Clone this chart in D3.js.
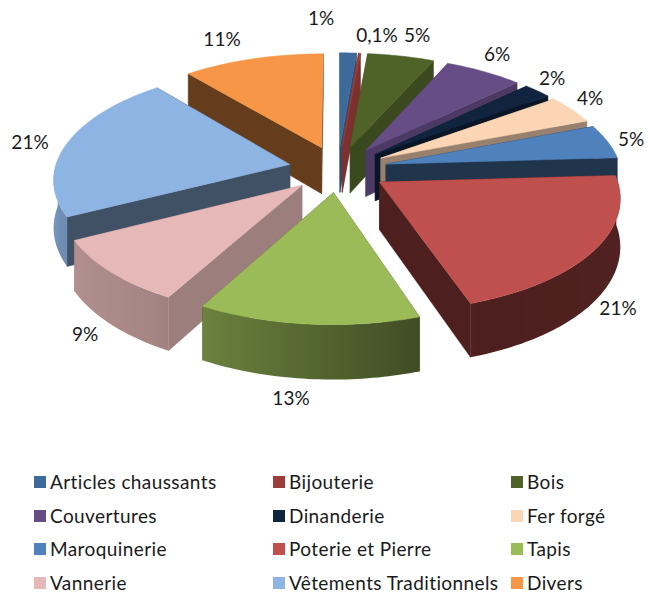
<!DOCTYPE html>
<html>
<head>
<meta charset="utf-8">
<script src="https://cdn.jsdelivr.net/npm/d3@7"></script>
<style>
  body { margin: 0; background: #fff; }
  text { font-family: Lato, "Open Sans", sans-serif; fill: #1a1a1a; }
</style>
</head>
<body>
<div id="content"></div>
<script>
const categories = ["Articles chaussants", "Bijouterie", "Bois", "Couvertures", "Dinanderie", "Fer forgé",
  "Maroquinerie", "Poterie et Pierre", "Tapis", "Vannerie", "Vêtements Traditionnels", "Divers"]
const values = [1.3, 0.15, 5.2, 6.1, 2.2, 4.1, 4.9, 20.7, 13.1, 9.4, 21.4, 11]
const valueLabels = ["1%", "0,1%", "5%", "6%", "2%", "4%", "5%", "21%", "13%", "9%", "21%", "11%"]
const colors = ["#3d6a99", "#9c3d3b", "#4f6228", "#664d85", "#10243f", "#fcd5b5",
  "#4f81bd", "#c0504d", "#9bbb59", "#e6b9b8", "#8eb4e3", "#f79646"]

// shade of the flat cut walls, slice by slice
const cutShade = [0.73, 0.8, 0.75, 0.75, 0.6, 0.6, 0.4, 0.4, 0.55, 0.68, 0.45, 0.41]
// where the value labels sit
const labelSpots = [[321, 18], [377, 35], [417, 35], [497, 54], [552, 78], [590, 98],
  [631, 139], [618, 308], [291, 398], [85, 334], [30, 142], [222, 39]]

const width = 648
const height = 593

const svg = d3.select("#content").append("svg")
    .attr("width", width)
    .attr("height", height)
const defs = svg.append("defs")

// flat pie plane -> screen, with a bit of perspective
const cx = 338
const cy = 169
const radiusX = 235
const radiusY = 110
const depth = 47
const perspective = 0.12
const explode = 0.21

const project = (px, py, down) => {
  const s = 1 / (1 - perspective * py)
  return [cx + radiusX * px * s, cy + radiusY * py * s + (down ? depth * s : 0)]
}

const pie = d3.pie().sort(null).value(d => d)
const slices = pie(values).map((d, i) => {
  const mid = (d.startAngle + d.endAngle) / 2
  return {i, start: d.startAngle, end: d.endAngle, mid,
    ox: explode * Math.sin(mid), oy: -explode * Math.cos(mid)}
})

// back to front
const ordered = d3.sort(slices, d => -Math.cos(d.mid))

// outer wall shade depends on which way the wall faces
const toDeg = a => a * 180 / Math.PI
const wallShade = d3.scaleLinear()
    .domain([0, 160, 213, 270, 360])
    .range([0.45, 0.4, 0.72, 0.83, 0.5])

const shadeOf = (base, f) => d3.rgb(base.r * f, base.g * f, base.b * f)

const line = d3.line()
const pie3d = svg.append("g").attr("class", "pie")

ordered.forEach(s => {
  const base = d3.color(colors[s.i])
  const g = pie3d.append("g")
  const rim = a => [s.ox + Math.sin(a), s.oy - Math.cos(a)]
  const steps = Math.max(2, Math.ceil((s.end - s.start) / 0.02))
  const angles = d3.range(steps + 1).map(k => s.start + (s.end - s.start) * k / steps)

  // the two cut walls
  const cutColor = shadeOf(base, cutShade[s.i])
  ;[s.start, s.end].forEach(a => {
    const [x, y] = rim(a)
    g.append("path")
        .attr("d", line([project(s.ox, s.oy), project(x, y), project(x, y, true), project(s.ox, s.oy, true)]) + "Z")
        .attr("fill", cutColor)
        .attr("stroke", cutColor)
        .attr("stroke-width", 0.5)
  })

  // curved outer wall, only the part facing us, one path with a sideways gradient
  const seen = angles.filter(a => Math.cos(a) < 0.05)
  if (seen.length > 1) {
    const stops = d3.sort(seen.map(a => ({
      x: project(...rim(a))[0],
      color: shadeOf(base, wallShade(toDeg(a)))
    })), d => d.x)
    const xRange = d3.extent(stops, d => d.x)
    const gradX = d3.scaleLinear().domain(xRange).range([0, 1])
    const grad = defs.append("linearGradient")
        .attr("id", `wall${s.i}`)
        .attr("gradientUnits", "userSpaceOnUse")
        .attr("x1", xRange[0])
        .attr("x2", xRange[1])
        .attr("y1", 0)
        .attr("y2", 0)
    grad.selectAll("stop")
      .data(stops)
      .join("stop")
        .attr("offset", d => gradX(d.x))
        .attr("stop-color", d => d.color)

    const wall = seen.map(a => project(...rim(a)))
      .concat(seen.slice().reverse().map(a => project(...rim(a), true)))
    g.append("path")
        .attr("d", line(wall) + "Z")
        .attr("fill", `url(#wall${s.i})`)
  }

  // top face
  const top = [project(s.ox, s.oy)].concat(angles.map(a => project(...rim(a))))
  g.append("path")
      .attr("d", line(top) + "Z")
      .attr("fill", colors[s.i])
      .attr("stroke", colors[s.i])
      .attr("stroke-width", 0.5)
})

// value labels
svg.append("g").selectAll("text")
  .data(valueLabels)
  .join("text")
    .attr("x", (d, i) => labelSpots[i][0])
    .attr("y", (d, i) => labelSpots[i][1])
    .attr("dy", "0.35em")
    .attr("text-anchor", "middle")
    .style("font-size", "19px")
    .text(d => d)

// legend, 3 columns
const legendX = d3.scalePoint().domain([0, 1, 2]).range([34, 511])
const legendY = d3.scalePoint().domain([0, 1, 2, 3]).range([482, 583])

const legend = svg.append("g").selectAll("g")
  .data(categories)
  .join("g")
    .attr("transform", (d, i) => `translate(${Math.round(legendX(i % 3))}, ${Math.round(legendY(Math.floor(i / 3)))})`)

legend.append("rect")
    .attr("y", -6)
    .attr("width", 12)
    .attr("height", 12)
    .attr("fill", (d, i) => colors[i])

legend.append("text")
    .attr("x", 16)
    .attr("dy", "0.35em")
    .style("font-size", "19px")
    .style("letter-spacing", "0.4px")
    .text(d => d)
</script>
</body>
</html>
